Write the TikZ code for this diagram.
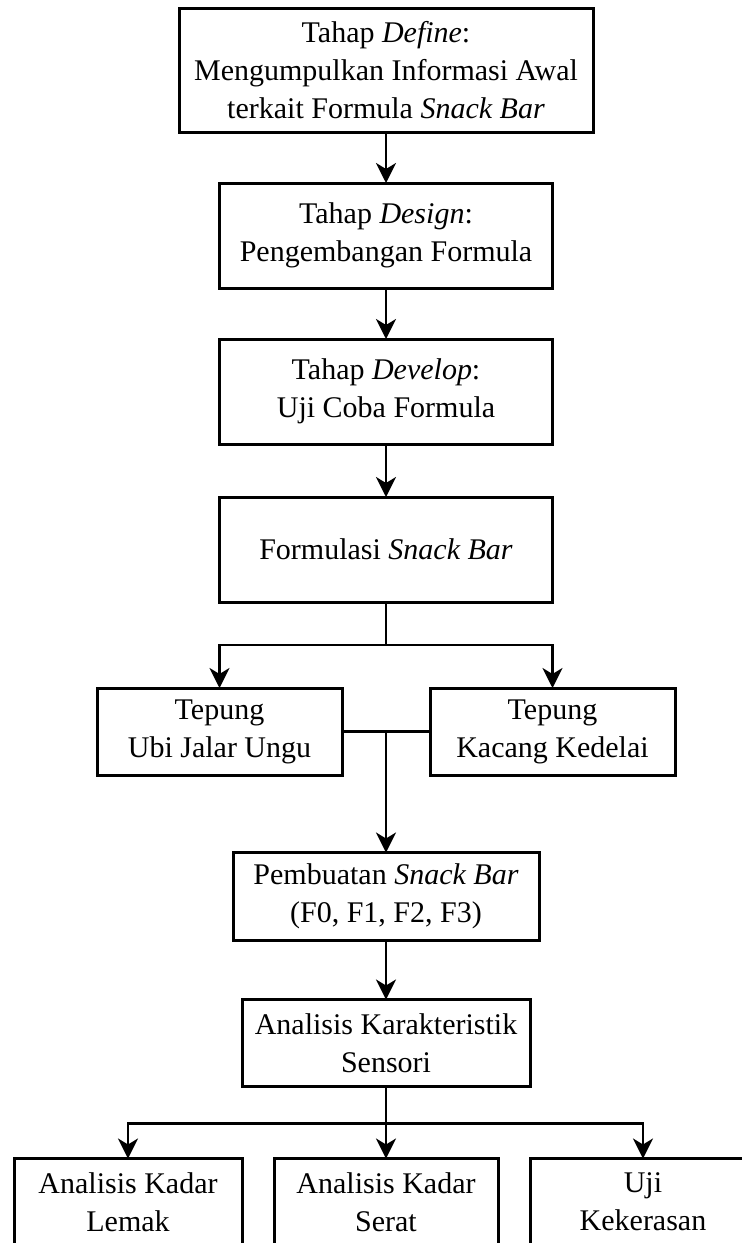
\documentclass[tikz,border=0pt]{standalone}
\usepackage{fontspec}
\setmainfont{Liberation Serif}
\usepackage{tikz}
\usetikzlibrary{positioning, arrows.meta, calc}
\tikzstyle{stagebox} =[draw, align=center, line width=1.5pt, inner sep=2pt, outer sep=0pt, font=\fontsize{15pt}{19pt}\selectfont]
\tikzstyle{flowarrow} =[-{Stealth[length=10pt, width=10pt, inset=3pt]}, line width=1.3pt, black]
\tikzstyle{flowline} =[line width=1.3pt, black]

\begin{document}
\begin{tikzpicture}
\useasboundingbox (0,0) rectangle (371pt,-621.5pt);

\node (define) [stagebox, minimum width=207pt, minimum height=62pt] at (193pt,-35pt) {Tahap \textit{Define}:\\Mengumpulkan Informasi Awal\\terkait Formula \textit{Snack Bar}};
\node (design) [stagebox, minimum width=166.5pt, minimum height=52.5pt, below=25.5pt of define] {Tahap \textit{Design}:\\Pengembangan Formula};
\node (develop) [stagebox, minimum width=166.5pt, minimum height=52.5pt, below=25.5pt of design] {Tahap \textit{Develop}:\\Uji Coba Formula};
\node (formulasi) [stagebox, minimum width=166.5pt, minimum height=52.5pt, below=26.5pt of develop] {Formulasi \textit{Snack Bar}};

\node (ubi) [stagebox, minimum width=122.5pt, minimum height=43.5pt, below=43pt of formulasi.south west] {Tepung\\Ubi Jalar Ungu};
\node (kedelai) [stagebox, minimum width=122.5pt, minimum height=43.5pt, below=43pt of formulasi.south east] {Tepung\\Kacang Kedelai};
\coordinate (join) at ($(ubi.east)!0.5!(kedelai.west)$);
\coordinate (split1) at ($(formulasi.south)+(0,-21.5pt)$);

\node (pembuatan) [stagebox, minimum width=153pt, minimum height=44pt, below=60.5pt of join] {Pembuatan \textit{Snack Bar}\\(F0, F1, F2, F3)};
\node (analisis) [stagebox, minimum width=144pt, minimum height=43.5pt, below=29.5pt of pembuatan] {Analisis Karakteristik\\Sensori};
\coordinate (split2) at ($(analisis.south)+(0,-18.5pt)$);

\node (serat) [stagebox, minimum width=112pt, minimum height=43.5pt, below=36pt of analisis] {Analisis Kadar\\Serat};
\node (lemak) [stagebox, minimum width=114pt, minimum height=43.5pt, left=16pt of serat] {Analisis Kadar\\Lemak};
\node (keras) [stagebox, minimum width=113pt, minimum height=43.5pt, right=16pt of serat] {Uji\\Kekerasan};

\draw[flowarrow] (define) -- (design);
\draw[flowarrow] (design) -- (develop);
\draw[flowarrow] (develop) -- (formulasi);

\draw[flowline] (formulasi) -- (split1);
\draw[flowarrow] (split1) -| (ubi);
\draw[flowarrow] (split1) -| (kedelai);

\draw[flowline] (ubi) -- (kedelai);
\draw[flowarrow] (join) -- (pembuatan);
\draw[flowarrow] (pembuatan) -- (analisis);

\draw[flowarrow] (analisis) -- (serat);
\draw[flowarrow] (split2) -| (lemak);
\draw[flowarrow] (split2) -| (keras);
\end{tikzpicture}
\end{document}
